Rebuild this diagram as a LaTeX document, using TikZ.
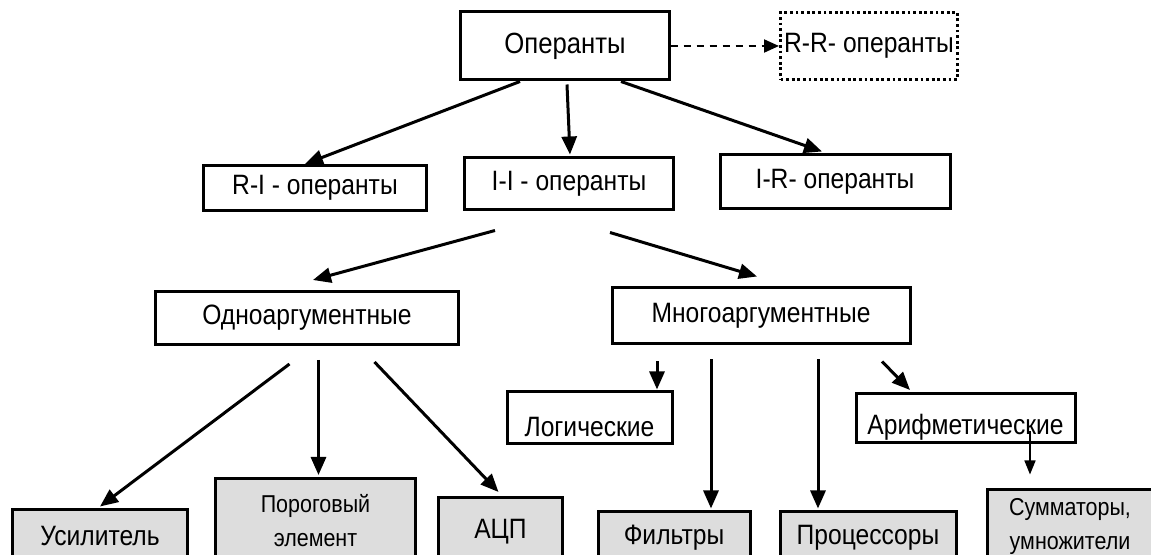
\documentclass[tikz,border=0pt]{standalone}
\usepackage{fontspec}
\setmainfont{Liberation Sans}[FakeStretch=0.88]
\usetikzlibrary{calc,arrows.meta}
\definecolor{boxgrey}{HTML}{DDDDDD}

\begin{document}
\begin{tikzpicture}[node distance=60pt, font=\fontsize{14pt}{17pt}\selectfont]

\tikzstyle{BOX} = [rectangle, draw=black, line width=1.5pt, inner sep=0pt, align=center]
\tikzstyle{GREY} = [BOX, fill=boxgrey]
\tikzstyle{SMALL} = [font=\fontsize{12.2pt}{17pt}\selectfont]
\tikzstyle{DOTBOX} = [rectangle, draw=black, line width=1.5pt, dash pattern=on 1.4pt off 1.4pt, inner sep=0pt]
\tikzstyle{arrow} = [line width=1.5pt, -{Triangle[length=9pt,width=7.5pt]}]
\tikzstyle{thinarrow} = [line width=0.8pt, -{Triangle[length=7pt,width=5.5pt]}]

\useasboundingbox (-282.5pt,23pt) rectangle (293pt,-254.5pt);

% top
\node (OP) [BOX, minimum width=104pt, minimum height=34pt, font=\fontsize{14.6pt}{17pt}\selectfont] {Операнты};
\node (RR) [DOTBOX, right of=OP, xshift=92pt, minimum width=88.5pt, minimum height=33.5pt] {R-R- операнты};

% second row
\node (RI) [BOX, below of=OP, xshift=-125pt, yshift=-11pt, minimum width=111.5pt, minimum height=22.5pt] {R-I - операнты};
\node (II) [BOX, below of=OP, xshift=2pt, yshift=-9pt, minimum width=104pt, minimum height=26pt] {I-I - операнты};
\node (IR) [BOX, below of=OP, xshift=135pt, yshift=-8pt, minimum width=115pt, minimum height=27pt] {I-R- операнты};

% third row
\node (ONE) [BOX, below of=II, xshift=-131pt, yshift=-7pt, minimum width=151.5pt, minimum height=26.5pt] {Одноаргументные};
\node (MANY) [BOX, below of=II, xshift=96pt, yshift=-6pt, minimum width=149pt, minimum height=28pt] {Многоаргументные};
\node (LOG) [BOX, below of=MANY, xshift=-85.75pt, yshift=9pt, minimum width=82.5pt, minimum height=26pt, text height=18.2pt, text depth=0pt] {Логические};
\node (ARI) [BOX, below of=MANY, xshift=102.25pt, yshift=9pt, minimum width=109.5pt, minimum height=24.5pt, text height=16.2pt, text depth=0pt] {Арифметические};

% bottom row
\node (AMP) [GREY, below of=ONE, xshift=-103.5pt, yshift=-49pt, minimum width=87.5pt, minimum height=26pt] {Усилитель};
\node (THR) [GREY, SMALL, below of=ONE, xshift=4.25pt, yshift=-41.25pt, minimum width=100pt, minimum height=42pt] {Пороговый\\элемент};
\node (ADC) [GREY, below of=ONE, xshift=96.75pt, yshift=-46.75pt, minimum width=62pt, minimum height=34pt] {АЦП};
\node (FIL) [GREY, below of=MANY, xshift=-43.5pt, yshift=-51pt, minimum width=76pt, minimum height=26pt] {Фильтры};
\node (PROC) [GREY, below of=MANY, xshift=53.5pt, yshift=-51pt, minimum width=88pt, minimum height=26pt] {Процессоры};
\node (SUM) [GREY, SMALL, below of=MANY, xshift=154.5pt, yshift=-45.5pt, minimum width=83pt, minimum height=37pt] {Сумматоры,\\умножители};

\draw[line width=1pt, dash pattern=on 3.5pt off 3pt, -{Triangle[length=7.5pt,width=6.5pt]}] (OP.east) -- (RR.west);

\draw[arrow] ($(OP.south)+(-22.5pt,0)$) -- ($(RI.north)+(-5pt,0)$);
\draw[arrow] ($(OP.south)+(1pt,-1.5pt)$) -- ($(II.north)+(0.5pt,1pt)$);
\draw[arrow] ($(OP.south)+(28pt,0)$) -- ($(IR.north)+(-6.5pt,1pt)$);

\draw[arrow] ($(II.south)+(-37pt,-9.5pt)$) -- ($(ONE.north)+(3pt,5pt)$);
\draw[arrow] ($(II.south)+(20.5pt,-10.5pt)$) -- ($(MANY.north)+(-2pt,5pt)$);

\draw[arrow] ($(ONE.south)+(-8.75pt,-9pt)$) -- ($(AMP.north)+(0,1pt)$);
\draw[arrow] ($(ONE.south)+(5.75pt,-7pt)$) -- ($(THR.north)+(1.5pt,1pt)$);
\draw[arrow] ($(ONE.south)+(33.75pt,-8pt)$) -- ($(ADC.north)+(-1pt,2pt)$);

\draw[arrow] ($(MANY.south)+(-52pt,-8pt)$) -- ($(LOG.north)+(33.75pt,0.5pt)$);
\draw[arrow] ($(MANY.south)+(-25pt,-7pt)$) -- ($(FIL.north)+(18.5pt,1pt)$);
\draw[arrow] ($(MANY.south)+(28.5pt,-7pt)$) -- ($(PROC.north)+(-25pt,1pt)$);
\draw[arrow] ($(MANY.south)+(60.5pt,-8pt)$) -- ($(ARI.north)+(-27.75pt,1pt)$);

\draw[thinarrow] ($(ARI.center)+(32.25pt,-6.75pt)$) -- ($(SUM.north)+(-20pt,7pt)$);

\end{tikzpicture}
\end{document}
